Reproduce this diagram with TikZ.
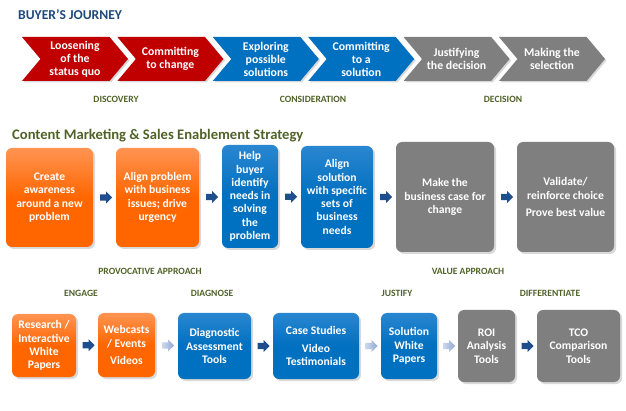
\documentclass[tikz,border=0pt]{standalone}
\usepackage{fontspec}
\setmainfont{Carlito}
\usepackage{tikz}
\usetikzlibrary{shapes.symbols, shapes.arrows, positioning, calc, shadows}
\definecolor{jred}{HTML}{C00000}
\definecolor{jblue}{HTML}{0070C0}
\definecolor{jbluetop}{HTML}{2A86D0}
\definecolor{jgray}{HTML}{7F7F7F}
\definecolor{jorange}{HTML}{FF6600}
\definecolor{jorangetop}{HTML}{FF9452}
\definecolor{jnavy}{HTML}{1F497D}
\definecolor{jgreen}{HTML}{4F6228}
\definecolor{jdark}{HTML}{1F4E8C}
\definecolor{jlightl}{HTML}{CBD7EC}
\definecolor{jlightr}{HTML}{93A9D2}

\begin{document}
\begin{tikzpicture}[
        x=1pt, y=-1pt,
        chev/.style={signal, signal from=west, signal to=east, signal pointer angle=100, minimum width=106pt, minimum height=44pt, inner sep=0pt, text=white, align=center, font=\bfseries\fontsize{11.8}{13}\selectfont, drop shadow={opacity=0.3, shadow xshift=1.5pt, shadow yshift=-1.5pt}},
        redchev/.style={chev, fill=jred},
        bluechev/.style={chev, fill=jblue},
        graychev/.style={chev, fill=jgray},
        box/.style={rectangle, rounded corners=6pt, align=center, inner sep=2pt, text=white, font=\bfseries\fontsize{11.6}{13.3}\selectfont, drop shadow={opacity=0.3, shadow xshift=2pt, shadow yshift=-2pt}},
        orgbox/.style={box, top color=jorangetop, bottom color=jorange, middle color=jorange},
        bluebox/.style={box, top color=jbluetop, bottom color=jblue, middle color=jblue},
        graybox/.style={box, fill=jgray},
        blk/.style={single arrow, single arrow head extend=2.8pt, minimum height=12pt, inner sep=3pt},
        darr/.style={blk, fill=jdark},
        larr/.style={blk, left color=jlightl, right color=jlightr},
        phase/.style={font=\bfseries\fontsize{9.6}{11}\selectfont, text=jgreen}
    ]
        \useasboundingbox (0,0) rectangle (626,411);

        % BUYER'S JOURNEY
        \node[anchor=west, inner sep=0pt, font=\bfseries\fontsize{13.6}{15}\selectfont, text=jnavy] (journey) at (18,15) {BUYER’S JOURNEY};
        \node[redchev] (loosen) at (75,59) {Loosening\\of the\\status quo};
        \node[redchev] (commit) at (170.4,59) {Committing\\to change};
        \node[bluechev] (explore) at (265.8,59) {Exploring\\possible\\solutions};
        \node[bluechev] (commitsol) at (361.2,59) {Committing\\to a\\solution};
        \node[graychev] (justifying) at (456.6,59) {Justifying\\the decision};
        \node[graychev] (making) at (552,59) {Making the\\selection};

        \node[phase] (discovery) at (116,99) {DISCOVERY};
        \node[phase] (consideration) at (313,99) {CONSIDERATION};
        \node[phase] (decision) at (503,99) {DECISION};

        % STRATEGY ROW
        \node[anchor=west, inner sep=0pt, font=\bfseries\fontsize{14.6}{16}\selectfont, text=jgreen] (strategy) at (12,136) {Content Marketing \& Sales Enablement Strategy};
        \node[orgbox, minimum width=87pt, minimum height=99pt] (awareness) at (49.5,197.5) {Create\\awareness\\around a new\\problem};
        \node[orgbox, minimum width=83pt, minimum height=99pt] (alignprob) at (157.5,197.5) {Align problem\\with business\\issues; drive\\urgency};
        \node[bluebox, minimum width=56pt, minimum height=103pt] (helpbuyer) at (250,196.5) {Help\\buyer\\identify\\needs in\\solving\\the\\problem};
        \node[bluebox, minimum width=72pt, minimum height=102pt] (alignsol) at (337,197) {Align\\solution\\with specific\\sets of\\business\\needs};
        \node[graybox, minimum width=98pt, minimum height=110pt] (bizcase) at (445,197) {Make the\\business case for\\change};
        \node[graybox, minimum width=97pt, minimum height=110pt] (validate) at (565.5,197) {Validate/\\reinforce choice\\[4pt]Prove best value};

        \node[darr] (s1) at ($(awareness.east)!0.5!(alignprob.west)$) {};
        \node[darr] (s2) at ($(alignprob.east)!0.5!(helpbuyer.west)$) {};
        \node[darr] (s3) at ($(helpbuyer.east)!0.5!(alignsol.west)$) {};
        \node[darr] (s4) at ($(alignsol.east)!0.5!(bizcase.west)$) {};
        \node[darr] (s5) at ($(bizcase.east)!0.5!(validate.west)$) {};

        \node[phase] (provocative) at (150,271) {PROVOCATIVE APPROACH};
        \node[phase] (valueapp) at (468,271) {VALUE APPROACH};

        % CONTENT ROW
        \node[phase] (engage) at (81,293) {ENGAGE};
        \node[phase] (diagnose) at (212,293) {DIAGNOSE};
        \node[phase] (justify) at (397,293) {JUSTIFY};
        \node[phase] (differentiate) at (550,293) {DIFFERENTIATE};

        \node[orgbox, minimum width=64pt, minimum height=63pt] (research) at (44,345.5) {Research /\\Interactive\\White\\Papers};
        \node[orgbox, minimum width=57pt, minimum height=64pt] (webcasts) at (126.5,345) {Webcasts\\/ Events\\[4pt]Videos};
        \node[bluebox, minimum width=73pt, minimum height=66pt] (diagtools) at (214.5,346) {Diagnostic\\Assessment\\Tools};
        \node[bluebox, minimum width=86pt, minimum height=66pt] (casestudies) at (316,346) {Case Studies\\[4pt]Video\\Testimonials};
        \node[bluebox, minimum width=56pt, minimum height=66pt] (solpapers) at (409,346) {Solution\\White\\Papers};
        \node[graybox, minimum width=57pt, minimum height=72pt] (roi) at (486.5,346) {ROI\\Analysis\\Tools};
        \node[graybox, minimum width=83pt, minimum height=72pt] (tco) at (578.5,346) {TCO\\Comparison\\Tools};

        \node[darr] (c1) at ($(research.east)!0.5!(webcasts.west)$) {};
        \node[larr] (c2) at ($(webcasts.east)!0.5!(diagtools.west)$) {};
        \node[darr] (c3) at ($(diagtools.east)!0.5!(casestudies.west)$) {};
        \node[larr] (c4) at ($(casestudies.east)!0.5!(solpapers.west)$) {};
        \node[larr] (c5) at ($(solpapers.east)!0.5!(roi.west)$) {};
        \node[darr] (c6) at ($(roi.east)!0.5!(tco.west)$) {};
    \end{tikzpicture}
\end{document}
